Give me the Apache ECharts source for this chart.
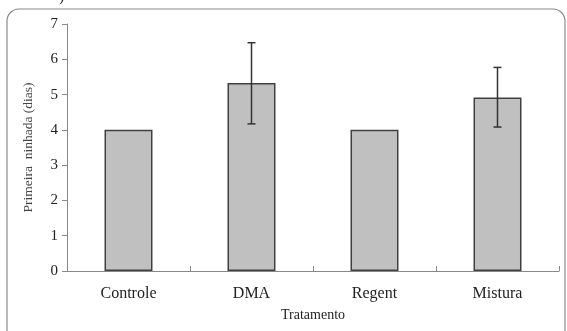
<!DOCTYPE html>
<html><head><meta charset="utf-8">
<script src="https://cdn.jsdelivr.net/npm/echarts@6/dist/echarts.min.js"></script>
<style>html,body{margin:0;padding:0;background:#fff}#c{width:567px;height:331px}</style>
</head><body><div id="c"></div>
<script>
const categories = ['Controle', 'DMA', 'Regent', 'Mistura'];
const means = [4, 5.33, 4, 4.92];
const errLow = [null, 4.17, null, 4.08];
const errHigh = [null, 6.47, null, 5.77];
const yTicks = [0, 1, 2, 3, 4, 5, 6, 7];

const chart = echarts.init(document.getElementById('c'));
const font = 'Liberation Serif, Times New Roman, serif';
const errData = categories.map((c, i) => [i, errLow[i], errHigh[i]]).filter(d => d[1] != null);

chart.setOption({
  animation: false,
  graphic: [
    { type: 'rect', shape: { x: 7, y: 9, width: 558, height: 340, r: 12 },
      style: { fill: 'none', stroke: '#8a8a8a', lineWidth: 1.2 }, z: 0 },
    { type: 'text', left: 59, top: -11, style: { text: ')', font: '16px ' + font, fill: '#222' } }
  ],
  grid: { left: 67, right: 8, top: 24, bottom: 60 },
  xAxis: {
    type: 'category', data: categories,
    name: 'Tratamento', nameLocation: 'middle', nameGap: 37,
    nameTextStyle: { fontFamily: font, fontSize: 14, color: '#222' },
    axisLine: { lineStyle: { color: '#888', width: 1 } },
    axisTick: { show: true, inside: true, length: 5, lineStyle: { color: '#888' } },
    axisLabel: { fontFamily: font, fontSize: 16, color: '#222', margin: 15 }
  },
  yAxis: {
    type: 'value', min: 0, max: 7, interval: 1,
    name: 'Primeira  ninhada (dias)', nameLocation: 'middle', nameGap: 32,
    nameTextStyle: { fontFamily: font, fontSize: 13.5, color: '#444' },
    axisLine: { show: true, lineStyle: { color: '#888', width: 1 } },
    axisTick: { show: true, length: 5, lineStyle: { color: '#888' } },
    axisLabel: { fontFamily: font, fontSize: 15, color: '#222', margin: 9,
      formatter: v => yTicks.includes(v) ? String(v) : '' },
    splitLine: { show: false }
  },
  series: [
    { type: 'bar', data: means, barWidth: '39%',
      itemStyle: { color: '#c0c0c0', borderColor: '#404040', borderWidth: 1.5 } },
    { type: 'custom', data: errData, z: 10,
      renderItem: function (params, api) {
        const x = api.value(0);
        const lo = api.coord([x, api.value(1)]);
        const hi = api.coord([x, api.value(2)]);
        const w = 4;
        const st = { stroke: '#333', lineWidth: 1.5 };
        return { type: 'group', children: [
          { type: 'line', shape: { x1: lo[0], y1: lo[1], x2: hi[0], y2: hi[1] }, style: st },
          { type: 'line', shape: { x1: lo[0] - w, y1: lo[1], x2: lo[0] + w, y2: lo[1] }, style: st },
          { type: 'line', shape: { x1: hi[0] - w, y1: hi[1], x2: hi[0] + w, y2: hi[1] }, style: st }
        ]};
      }
    }
  ]
});
</script></body></html>
